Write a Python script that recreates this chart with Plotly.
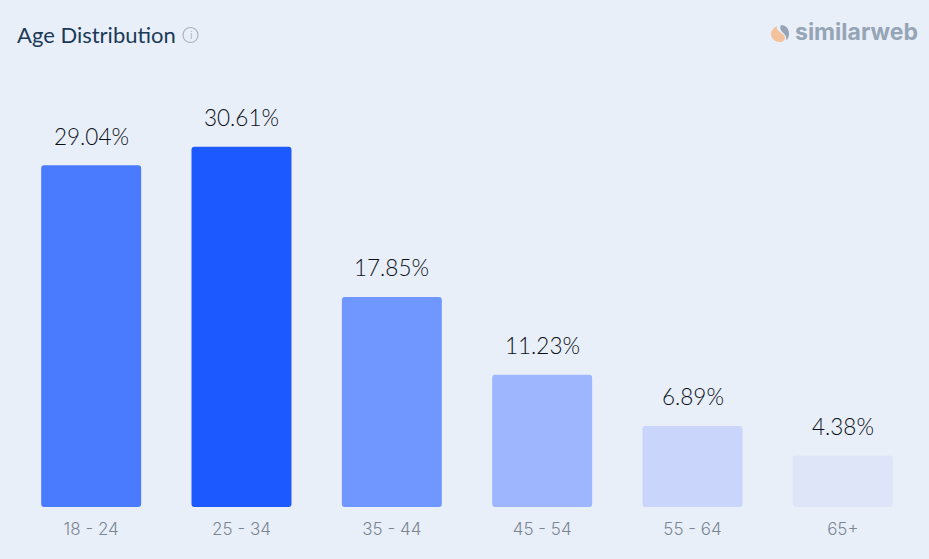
import plotly.graph_objects as go

categories = ["18 - 24", "25 - 34", "35 - 44", "45 - 54", "55 - 64", "65+"]
values = [29.04, 30.61, 17.85, 11.23, 6.89, 4.38]
labels = ["29.04%", "30.61%", "17.85%", "11.23%", "6.89%", "4.38%"]
colors = ["#4a7bff", "#1c5aff", "#7096ff", "#9db6fd", "#c9d5fa", "#dfe5f8"]

W, H = 929, 559
ML, MR, MT, MB = 16, 11, 95, 52
PW, PH = W - ML - MR, H - MT - MB
def px(x): return (x - ML) / PW
def py(y): return 1 - (y - MT) / PH

fig = go.Figure()
# an explicit base makes Plotly round both the top and the bottom corners
fig.add_bar(x=categories, y=values, base=[0] * len(values), width=0.665,
            marker=dict(color=colors, line_width=0, cornerradius=3), hoverinfo="skip")

shapes = [
    dict(type="circle", xref="paper", yref="paper", x0=px(183), x1=px(198), y0=py(42.5), y1=py(27.5),
         line=dict(color="#a9b3c2", width=1.2), fillcolor="rgba(0,0,0,0)"),
    dict(type="path", xref="paper", yref="paper",
         path=f"M {px(777)} {py(26)} C {px(773)} {py(28)} {px(771)} {py(31)} {px(771)} {py(34)} "
              f"C {px(771)} {py(38.5)} {px(775)} {py(42)} {px(780)} {py(42)} "
              f"C {px(783)} {py(42)} {px(785)} {py(40)} {px(785)} {py(37.5)} "
              f"C {px(785)} {py(33)} {px(775)} {py(32)} {px(777)} {py(26)} Z",
         fillcolor="#f3c19b", line_width=0),
    dict(type="path", xref="paper", yref="paper",
         path=f"M {px(781)} {py(25)} C {px(786)} {py(25)} {px(789)} {py(29)} {px(789)} {py(33.5)} "
              f"C {px(789)} {py(36.5)} {px(788)} {py(39)} {px(786)} {py(40.5)} "
              f"C {px(788.5)} {py(33.5)} {px(777.5)} {py(32)} {px(781)} {py(25)} Z",
         fillcolor="#95a5b5", line_width=0),
]

annotations = [
    dict(text="Age Distribution", x=px(15), y=py(34.5), xref="paper", yref="paper",
         xanchor="left", yanchor="middle", showarrow=False,
         font=dict(family="Lato, sans-serif", size=22, color="#1b3a57", weight=400)),
    dict(text="i", x=px(190.5), y=py(35), xref="paper", yref="paper",
         xanchor="center", yanchor="middle", showarrow=False,
         font=dict(family="Inter, sans-serif", size=10, color="#a9b3c2")),
    dict(text="<b>similarweb</b>", x=px(793), y=py(32.5), xref="paper", yref="paper",
         xanchor="left", yanchor="middle", showarrow=False,
         font=dict(family="Inter, Lato, sans-serif", size=23, color="#95a5b5")),
]
for c, v, t in zip(categories, values, labels):
    annotations.append(dict(text=t, x=c, y=v, xref="x", yref="y", yshift=29,
                            xanchor="center", yanchor="middle", showarrow=False,
                            font=dict(family="Lato, sans-serif", size=22.5, color="#0a1018", weight=300)))

fig.update_layout(
    width=W, height=H, autosize=False, barmode="overlay",
    margin=dict(l=ML, r=MR, t=MT, b=MB, pad=0),
    paper_bgcolor="#e9eff9", plot_bgcolor="#e9eff9",
    showlegend=False, shapes=shapes, annotations=annotations,
    xaxis=dict(type="category", range=[-0.5, 5.5], showgrid=False, zeroline=False, showline=False,
               ticks="", ticklabelstandoff=10,
               tickfont=dict(family="Inter, Lato, sans-serif", size=17, color="#7a8693", weight=300)),
    yaxis=dict(range=[0, 35], visible=False, fixedrange=True),
)

fig.write_html("out.html", post_script="document.body.style.margin='0';", config={"displayModeBar": False})
